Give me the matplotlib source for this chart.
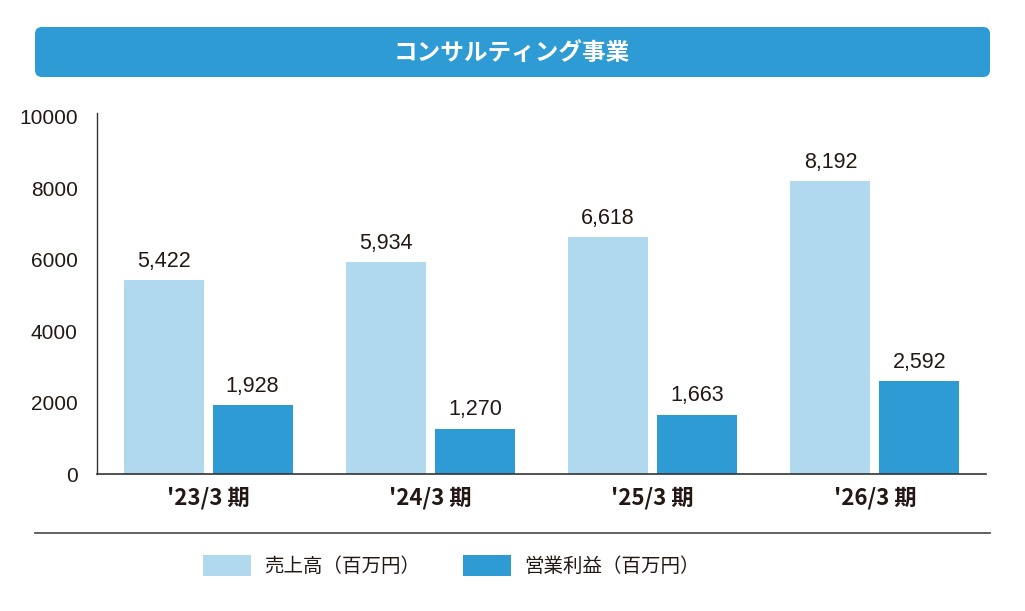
import numpy as np
import matplotlib
matplotlib.use("Agg")
import matplotlib.pyplot as plt
from matplotlib.patches import FancyBboxPatch

# データ
categories = ["'23/3 期", "'24/3 期", "'25/3 期", "'26/3 期"]
sales = [5422, 5934, 6618, 8192]
profit = [1928, 1270, 1663, 2592]
series_names = ["売上高（百万円）", "営業利益（百万円）"]
title = "コンサルティング事業"
yticks = [0, 2000, 4000, 6000, 8000, 10000]

light = "#b0d8ee"
dark = "#2e9bd4"
ink = "#231815"

num = "Liberation Sans"
jp = ["Noto Sans CJK JP", "DejaVu Sans"]

fig = plt.figure(figsize=(10.25, 6.11), dpi=100)

# 背景用（ピクセル座標）
bg = fig.add_axes([0, 0, 1, 1])
bg.set_xlim(0, 1025)
bg.set_ylim(611, 0)
bg.axis("off")
bg.add_patch(FancyBboxPatch((35, 27), 955, 50, boxstyle="round,pad=0,rounding_size=7",
                            fc=dark, ec="none"))
bg.text(512, 53, title, color="white", fontsize=17, fontweight="bold",
        family=jp, ha="center", va="center")
bg.plot([35, 990], [533, 533], color="#555555", lw=1.3)

ax = fig.add_axes([97 / 1025, 1 - 474 / 611, (986 - 97) / 1025, (474 - 113) / 611])
x = np.arange(len(categories))
w = 0.36
b1 = ax.bar(x - 0.2, sales, w, color=light, label=series_names[0])
b2 = ax.bar(x + 0.2, profit, w, color=dark, label=series_names[1])
for bars, vals in ((b1, sales), (b2, profit)):
    for r, v in zip(bars, vals):
        ax.text(r.get_x() + r.get_width() / 2, v + 230, f"{v:,}", ha="center", va="bottom",
                fontsize=15.5, family=num, color=ink)

ax.set_xlim(-0.5, 3.5)
ax.set_ylim(0, 10100)
ax.set_yticks(yticks)
ax.set_yticklabels([str(t) for t in yticks], family=num, fontsize=15, color=ink)
ax.set_xticks(x)
ax.set_xticklabels(categories, family=jp, fontsize=16, fontweight="bold", color=ink)
ax.tick_params(axis="y", length=0, pad=14)
ax.tick_params(axis="x", length=0, pad=9)
for s in ("top", "right"):
    ax.spines[s].set_visible(False)
ax.spines["left"].set_color("#333333")
ax.spines["bottom"].set_color("#333333")
ax.spines["left"].set_linewidth(1.0)
ax.spines["bottom"].set_linewidth(1.2)

fig.legend(handles=[b1, b2], labels=series_names, loc="center",
           bbox_to_anchor=(451 / 1025, 1 - 566 / 611), ncol=2, frameon=False,
           prop={"family": jp, "size": 14}, handlelength=2.5, handleheight=1.3,
           handletextpad=0.65, columnspacing=2.2, labelcolor=ink)

fig.savefig("out.png", dpi=100)
